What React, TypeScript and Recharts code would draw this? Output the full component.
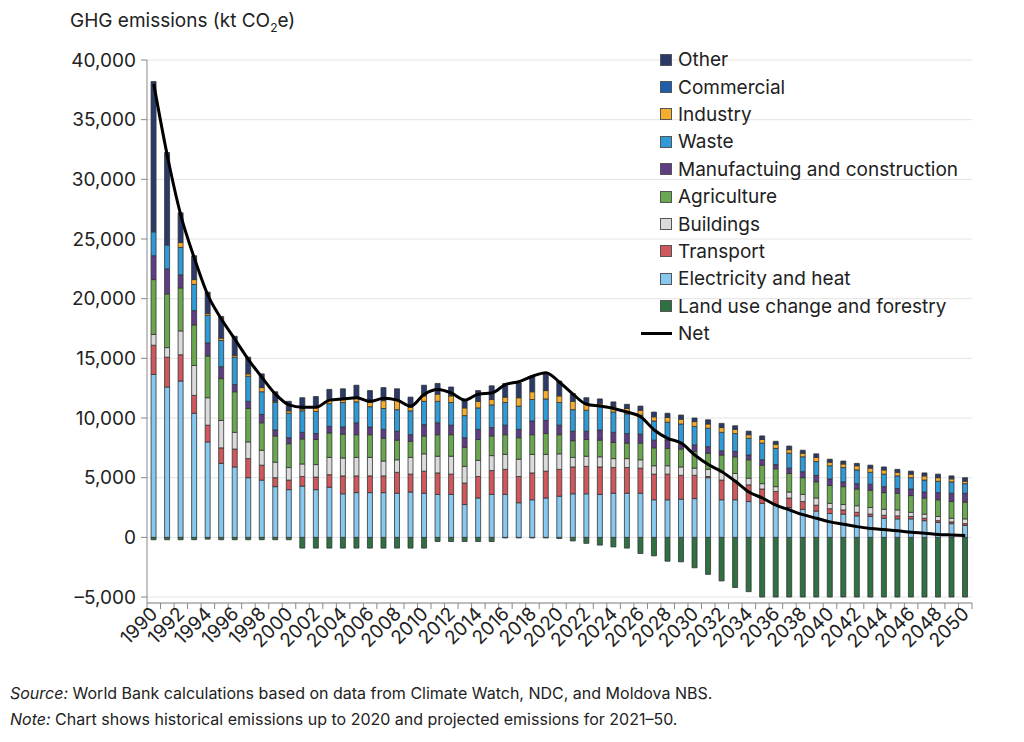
import React from "react";
import { ComposedChart, Bar, Line, XAxis, YAxis, CartesianGrid } from "recharts";

// values in thousand kt CO2e
const years = [
  1990, 1991, 1992, 1993, 1994, 1995, 1996, 1997, 1998, 1999,
  2000, 2001, 2002, 2003, 2004, 2005, 2006, 2007, 2008, 2009,
  2010, 2011, 2012, 2013, 2014, 2015, 2016, 2017, 2018, 2019,
  2020, 2021, 2022, 2023, 2024, 2025, 2026, 2027, 2028, 2029,
  2030, 2031, 2032, 2033, 2034, 2035, 2036, 2037, 2038, 2039,
  2040, 2041, 2042, 2043, 2044, 2045, 2046, 2047, 2048, 2049,
  2050,
];

const landUse = [
  -0.2, -0.2, -0.2, -0.2, -0.15, -0.2, -0.2, -0.2, -0.2, -0.2,
  -0.2, -0.9, -0.9, -0.9, -0.9, -0.9, -0.9, -0.9, -0.9, -0.9,
  -0.9, -0.35, -0.35, -0.35, -0.35, -0.35, -0.05, -0.05, -0.05, -0.05,
  -0.1, -0.3, -0.5, -0.65, -0.8, -0.9, -1.35, -1.55, -2.0, -2.05,
  -2.55, -3.1, -3.65, -4.2, -4.55, -5.0, -5.0, -5.0, -5.0, -5.0,
  -5.0, -5.0, -5.0, -5.0, -5.0, -5.0, -5.0, -5.0, -5.0, -5.0,
  -5.0,
];
const electricity = [
  13.65, 12.6, 13.1, 10.4, 8.0, 6.2, 5.9, 5.0, 4.8, 4.25,
  4.0, 4.3, 4.0, 4.2, 3.65, 3.75, 3.75, 3.75, 3.7, 3.8,
  3.7, 3.6, 3.6, 2.75, 3.3, 3.6, 3.6, 2.9, 3.15, 3.3,
  3.45, 3.65, 3.65, 3.6, 3.7, 3.7, 3.7, 3.15, 3.15, 3.2,
  3.25, 5.0, 3.15, 3.15, 3.0, 2.85, 2.7, 2.5, 2.35, 2.2,
  2.0, 1.95, 1.8, 1.75, 1.6, 1.55, 1.55, 1.4, 1.25, 1.15,
  1.0,
];
const transport = [
  2.45, 2.5, 2.2, 1.5, 1.4, 1.3, 1.5, 1.6, 1.25, 0.75,
  0.8, 0.8, 1.05, 1.05, 1.5, 1.4, 1.4, 1.4, 1.75, 1.5,
  1.85, 1.8, 1.7, 1.8, 1.8, 2.0, 2.1, 2.2, 2.25, 2.25,
  2.25, 2.25, 2.3, 2.3, 2.15, 2.15, 2.1, 2.15, 2.15, 2.0,
  1.95, 0.1, 1.65, 1.55, 1.4, 1.2, 1.15, 0.8, 0.65, 0.5,
  0.4, 0.35, 0.3, 0.2, 0.25, 0.25, 0.2, 0.2, 0.15, 0.15,
  0.15,
];
const buildings = [
  0.9, 0.8, 2.0, 2.5, 2.3, 2.3, 1.4, 1.4, 1.25, 1.3,
  1.05, 1.05, 1.05, 1.45, 1.5, 1.55, 1.55, 1.25, 1.05, 1.4,
  1.45, 1.4, 1.5, 1.4, 1.35, 1.25, 1.25, 1.45, 1.55, 1.4,
  1.3, 0.8, 0.85, 0.85, 0.75, 0.75, 0.7, 0.7, 0.7, 0.7,
  0.6, 0.6, 0.7, 0.65, 0.55, 0.45, 0.4, 0.5, 0.6, 0.6,
  0.45, 0.45, 0.55, 0.55, 0.5, 0.5, 0.35, 0.35, 0.35, 0.3,
  0.4,
];
const agriculture = [
  4.6, 4.5, 3.6, 3.4, 3.5, 3.5, 3.4, 2.8, 2.3, 2.2,
  2.0, 2.1, 2.1, 2.05, 2.0, 1.9, 1.9, 1.9, 1.65, 1.35,
  1.5, 1.8, 1.8, 1.6, 1.75, 1.65, 1.65, 1.8, 1.65, 1.75,
  1.6, 1.4, 1.4, 1.4, 1.35, 1.3, 1.4, 1.5, 1.45, 1.5,
  1.4, 1.35, 1.4, 1.4, 1.55, 1.55, 1.5, 1.55, 1.4, 1.35,
  1.5, 1.5, 1.4, 1.45, 1.4, 1.4, 1.4, 1.35, 1.4, 1.4,
  1.4,
];
const manufacturing = [
  2.0, 2.1, 1.1, 1.2, 1.1, 1.0, 0.6, 0.6, 0.7, 0.5,
  0.5, 0.55, 0.5, 0.55, 0.6, 1.0, 0.65, 0.75, 0.75, 0.55,
  0.95, 1.0, 0.8, 0.8, 0.85, 0.7, 0.8, 0.7, 1.15, 1.1,
  0.8, 0.8, 0.7, 0.85, 0.85, 0.8, 0.75, 0.65, 0.7, 0.55,
  0.55, 0.55, 0.35, 0.45, 0.4, 0.45, 0.35, 0.45, 0.5, 0.55,
  0.55, 0.4, 0.45, 0.5, 0.5, 0.4, 0.55, 0.5, 0.6, 0.7,
  0.75,
];
const waste = [
  2.0, 2.0, 2.3, 2.2, 2.3, 2.2, 2.3, 2.1, 1.9, 2.3,
  2.05, 1.8, 1.85, 1.9, 2.05, 1.75, 1.7, 1.75, 1.8, 2.0,
  1.95, 1.8, 1.9, 1.85, 1.8, 1.9, 1.9, 1.95, 1.8, 1.8,
  1.9, 1.8, 1.75, 2.0, 1.7, 1.65, 1.6, 1.6, 1.5, 1.55,
  1.55, 1.55, 1.55, 1.5, 1.4, 1.4, 1.35, 1.25, 1.25, 1.15,
  1.1, 1.2, 1.15, 1.0, 1.05, 1.05, 0.95, 1.0, 0.95, 0.95,
  0.8,
];
const industry = [
  0, 0, 0.4, 0.4, 0.15, 0.2, 0.15, 0.2, 0.35, 0.1,
  0.2, 0.15, 0.35, 0.3, 0.35, 0.4, 0.35, 0.65, 0.85, 0.3,
  0.45, 0.6, 0.55, 0.65, 0.55, 0.45, 0.45, 0.7, 0.65, 0.7,
  0.55, 0.7, 0.5, 0.2, 0.45, 0.45, 0.4, 0.35, 0.4, 0.4,
  0.4, 0.35, 0.4, 0.35, 0.3, 0.3, 0.35, 0.3, 0.3, 0.35,
  0.3, 0.3, 0.35, 0.35, 0.35, 0.3, 0.3, 0.35, 0.3, 0.25,
  0.2,
];
const commercial = [
  0, 0, 0, 0, 0, 0, 0, 0, 0, 0,
  0, 0, 0, 0, 0, 0, 0, 0, 0, 0,
  0, 0, 0, 0, 0, 0, 0, 0, 0, 0,
  0, 0, 0, 0, 0, 0, 0, 0, 0, 0,
  0, 0, 0, 0, 0, 0, 0, 0, 0, 0,
  0, 0, 0, 0, 0, 0, 0, 0, 0, 0,
  0,
];
const other = [
  12.6, 7.75, 2.5, 2.0, 1.8, 1.8, 1.6, 1.4, 1.15, 0.8,
  0.8, 0.95, 0.9, 0.9, 0.8, 1.0, 1.0, 1.1, 0.9, 0.85,
  0.9, 0.9, 0.75, 0.7, 0.9, 1.15, 1.15, 1.25, 1.3, 1.35,
  1.25, 0.65, 0.55, 0.4, 0.4, 0.35, 0.35, 0.4, 0.35, 0.35,
  0.3, 0.35, 0.35, 0.3, 0.3, 0.3, 0.25, 0.3, 0.25, 0.3,
  0.25, 0.25, 0.2, 0.25, 0.25, 0.25, 0.25, 0.25, 0.3, 0.25,
  0.3,
];
const net = [
  38.0, 32.0, 27.0, 23.4, 20.3, 18.3, 16.6, 14.9, 13.4, 12.0,
  11.1, 10.9, 10.9, 11.5, 11.6, 11.7, 11.4, 11.65, 11.5, 11.0,
  12.0, 12.4, 12.1, 11.5, 12.0, 12.1, 12.8, 13.05, 13.5, 13.8,
  13.0, 12.0, 11.15, 11.0, 10.8, 10.5, 10.1, 9.0, 8.3, 7.9,
  6.9, 6.1, 5.5, 4.7, 3.8, 3.3, 2.7, 2.3, 1.9, 1.6,
  1.3, 1.1, 0.9, 0.75, 0.65, 0.55, 0.42, 0.35, 0.25, 0.2,
  0.15,
];

const yTicks = [-5000, 0, 5000, 10000, 15000, 20000, 25000, 30000, 35000, 40000];

// stacking order, bottom to top
const series = [
  { key: "landUse", name: "Land use change and forestry", color: "#2f7143", values: landUse },
  { key: "electricity", name: "Electricity and heat", color: "#86c8ef", values: electricity },
  { key: "transport", name: "Transport", color: "#d0585c", values: transport },
  { key: "buildings", name: "Buildings", color: "#dadada", values: buildings },
  { key: "agriculture", name: "Agriculture", color: "#6aa84f", values: agriculture },
  { key: "manufacturing", name: "Manufactuing and construction", color: "#5f3d85", values: manufacturing },
  { key: "waste", name: "Waste", color: "#2f9ad8", values: waste },
  { key: "industry", name: "Industry", color: "#f5ad2e", values: industry },
  { key: "commercial", name: "Commercial", color: "#1d5eaa", values: commercial },
  { key: "other", name: "Other", color: "#2a3a6a", values: other },
];

const rows = years.map((yr, i) => {
  const row: Record<string, number | string> = { year: String(yr), net: net[i] * 1000 };
  series.forEach((s) => {
    row[s.key] = s.values[i] * 1000;
  });
  return row;
});

const FONT = "Inter, 'DejaVu Sans', sans-serif";
const TEXT = "#222";
const FS = 19;
const HALF_BAND = 825 / years.length / 2;

const fmtY = (v: number) =>
  v < 0 ? "\u2013" + Math.abs(v).toLocaleString("en-US") : v.toLocaleString("en-US");

const YearTick = (props: any) => {
  const { x, y, payload, index } = props;
  const yr = Number(payload.value);
  return (
    <g>
      <line x1={x - HALF_BAND} x2={x - HALF_BAND} y1={y} y2={y + 6} stroke="#888" />
      {index === years.length - 1 && (
        <line x1={x + HALF_BAND} x2={x + HALF_BAND} y1={y} y2={y + 6} stroke="#888" />
      )}
      {yr % 2 === 0 && (
        <text
          x={x + 5}
          y={y + 12}
          transform={`rotate(-45, ${x + 5}, ${y + 12})`}
          textAnchor="end"
          fontSize={FS}
          fill={TEXT}
          fontFamily={FONT}
        >
          {yr}
        </text>
      )}
    </g>
  );
};

const legendOrder = [...series].reverse();

const LegendBox = () => (
  <div
    style={{
      position: "absolute",
      left: 634,
      top: 46,
      fontFamily: FONT,
      fontSize: FS,
      color: TEXT,
    }}
  >
    {legendOrder.map((s) => (
      <div key={s.key} style={{ display: "flex", alignItems: "center", height: 27.4 }}>
        <div style={{ width: 38, display: "flex", justifyContent: "flex-end" }}>
          <span
            style={{
              width: 12,
              height: 12,
              background: s.color,
              border: "1px solid #555",
              boxSizing: "border-box",
              display: "inline-block",
            }}
          />
        </div>
        <span style={{ marginLeft: 6, whiteSpace: "nowrap" }}>{s.name}</span>
      </div>
    ))}
    <div style={{ display: "flex", alignItems: "center", height: 27.4 }}>
      <div style={{ width: 38, display: "flex", justifyContent: "flex-end" }}>
        <span style={{ width: 31, height: 3, background: "#000", display: "inline-block" }} />
      </div>
      <span style={{ marginLeft: 6 }}>Net</span>
    </div>
  </div>
);

export default function App() {
  return (
    <div
      style={{
        position: "absolute",
        left: 0,
        top: 0,
        width: 1024,
        height: 742,
        background: "#fff",
        fontFamily: FONT,
        color: TEXT,
      }}
    >
      <div style={{ position: "absolute", left: 70, top: 9, fontSize: FS, whiteSpace: "nowrap" }}>
        GHG emissions (kt CO<sub style={{ fontSize: 12 }}>2</sub>e)
      </div>
      <div style={{ position: "absolute", left: 0, top: 0 }}>
        <ComposedChart
          width={1000}
          height={680}
          data={rows}
          margin={{ top: 60, right: 28, bottom: 17, left: 0 }}
          stackOffset="sign"
          barCategoryGap="30%"
        >
          <CartesianGrid vertical={false} stroke="#e4e4e4" />
          <XAxis
            dataKey="year"
            interval={0}
            height={60}
            tick={<YearTick />}
            tickLine={false}
            tickSize={0}
            tickMargin={0}
            axisLine={{ stroke: "#888" }}
          />
          <YAxis
            width={147}
            domain={[-5500, 40000]}
            ticks={yTicks}
            allowDataOverflow
            tickFormatter={fmtY}
            tick={{ fontSize: FS, fill: TEXT, fontFamily: FONT }}
            tickSize={6}
            tickMargin={5}
            axisLine={{ stroke: "#888" }}
            tickLine={{ stroke: "#888" }}
          />
          {series.map((s) => (
            <Bar
              key={s.key}
              dataKey={s.key}
              name={s.name}
              stackId="ghg"
              fill={s.color}
              stroke="#333"
              strokeWidth={0.8}
              isAnimationActive={false}
            />
          ))}
          <Line
            dataKey="net"
            name="Net"
            type="monotone"
            stroke="#000"
            strokeWidth={3}
            dot={false}
            activeDot={false}
            isAnimationActive={false}
          />
        </ComposedChart>
      </div>
      <LegendBox />
      <div style={{ position: "absolute", left: 10, top: 680, fontSize: 16, lineHeight: "26px" }}>
        <div>
          <i>Source:</i> World Bank calculations based on data from Climate Watch, NDC, and Moldova NBS.
        </div>
        <div>
          <i>Note:</i> Chart shows historical emissions up to 2020 and projected emissions for 2021–50.
        </div>
      </div>
    </div>
  );
}
